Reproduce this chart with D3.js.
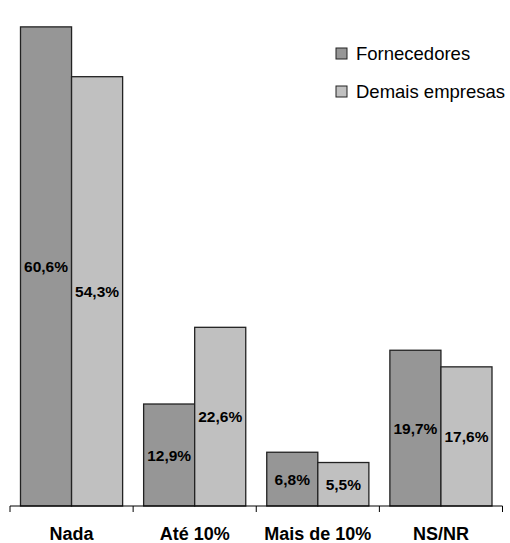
<!DOCTYPE html>
<html>
<head>
<meta charset="utf-8">
<script src="https://cdn.jsdelivr.net/npm/d3@7/dist/d3.min.js"></script>
<style>
  html, body { margin: 0; padding: 0; background: #fff; }
  svg { display: block; font-family: Arial, "Liberation Sans", sans-serif; }
</style>
</head>
<body>
<svg id="chart" width="510" height="543"></svg>
<script>
// Categories and series values (percent)
const categories = ["Nada", "Até 10%", "Mais de 10%", "NS/NR"];
const seriesNames = ["Fornecedores", "Demais empresas"];
const fornecedores = [60.6, 12.9, 6.8, 19.7];
const demaisEmpresas = [54.3, 22.6, 5.5, 17.6];
const seriesColors = ["#969696", "#c0c0c0"];

const fmt = v => d3.format(".1f")(v).replace(".", ",") + "%";

const svg = d3.select("#chart");
const baseY = 506;

const rows = categories.map((c, i) => ({
  cat: c,
  vals: [fornecedores[i], demaisEmpresas[i]]
}));

const x0 = d3.scaleBand().domain(categories).range([10, 502.5]).padding(0);
const x1 = d3.scaleBand().domain(d3.range(seriesNames.length))
  .range([10.5, x0.bandwidth() - 10.5]).padding(0);
const y = d3.scaleLinear().domain([0, 64]).range([baseY, 0]);

// Bars
const groups = svg.selectAll("g.cat").data(rows).join("g")
  .attr("class", "cat")
  .attr("transform", d => `translate(${x0(d.cat)},0)`);

groups.selectAll("rect").data(d => d.vals).join("rect")
  .attr("x", (v, i) => x1(i))
  .attr("y", v => y(v))
  .attr("width", x1.bandwidth())
  .attr("height", v => baseY - y(v))
  .attr("fill", (v, i) => seriesColors[i])
  .attr("stroke", "#222")
  .attr("stroke-width", 1.3);

// Value labels, centred in each bar
groups.selectAll("text.val").data(d => d.vals).join("text")
  .attr("class", "val")
  .attr("x", (v, i) => x1(i) + x1.bandwidth() / 2)
  .attr("y", v => (y(v) + baseY) / 2)
  .attr("text-anchor", "middle")
  .attr("dominant-baseline", "central")
  .attr("font-size", 15.5)
  .attr("font-weight", "bold")
  .attr("fill", "#000")
  .text(v => fmt(v));

// Category axis with ticks between categories
const boundaries = categories.map(c => x0(c)).concat([x0.range()[1]]);
svg.append("line")
  .attr("x1", x0.range()[0]).attr("x2", x0.range()[1])
  .attr("y1", baseY).attr("y2", baseY)
  .attr("stroke", "#000").attr("stroke-width", 1);
svg.selectAll("line.tick").data(boundaries).join("line")
  .attr("class", "tick")
  .attr("x1", d => d).attr("x2", d => d)
  .attr("y1", baseY).attr("y2", baseY + 6)
  .attr("stroke", "#000").attr("stroke-width", 1);

svg.selectAll("text.cat").data(categories).join("text")
  .attr("class", "cat")
  .attr("x", d => x0(d) + x0.bandwidth() / 2)
  .attr("y", 540)
  .attr("text-anchor", "middle")
  .attr("font-size", 18)
  .attr("font-weight", "bold")
  .attr("fill", "#000")
  .text(d => d);

// Legend
const legend = svg.append("g").attr("transform", "translate(336,48)");
const items = legend.selectAll("g").data(seriesNames).join("g")
  .attr("transform", (d, i) => `translate(0,${i * 38})`);
items.append("rect")
  .attr("width", 11).attr("height", 11)
  .attr("fill", (d, i) => seriesColors[i])
  .attr("stroke", "#222").attr("stroke-width", 1);
items.append("text")
  .attr("x", 20).attr("y", 5.5)
  .attr("dominant-baseline", "central")
  .attr("font-size", 18.5)
  .attr("fill", "#000")
  .text(d => d);
</script>
</body>
</html>
